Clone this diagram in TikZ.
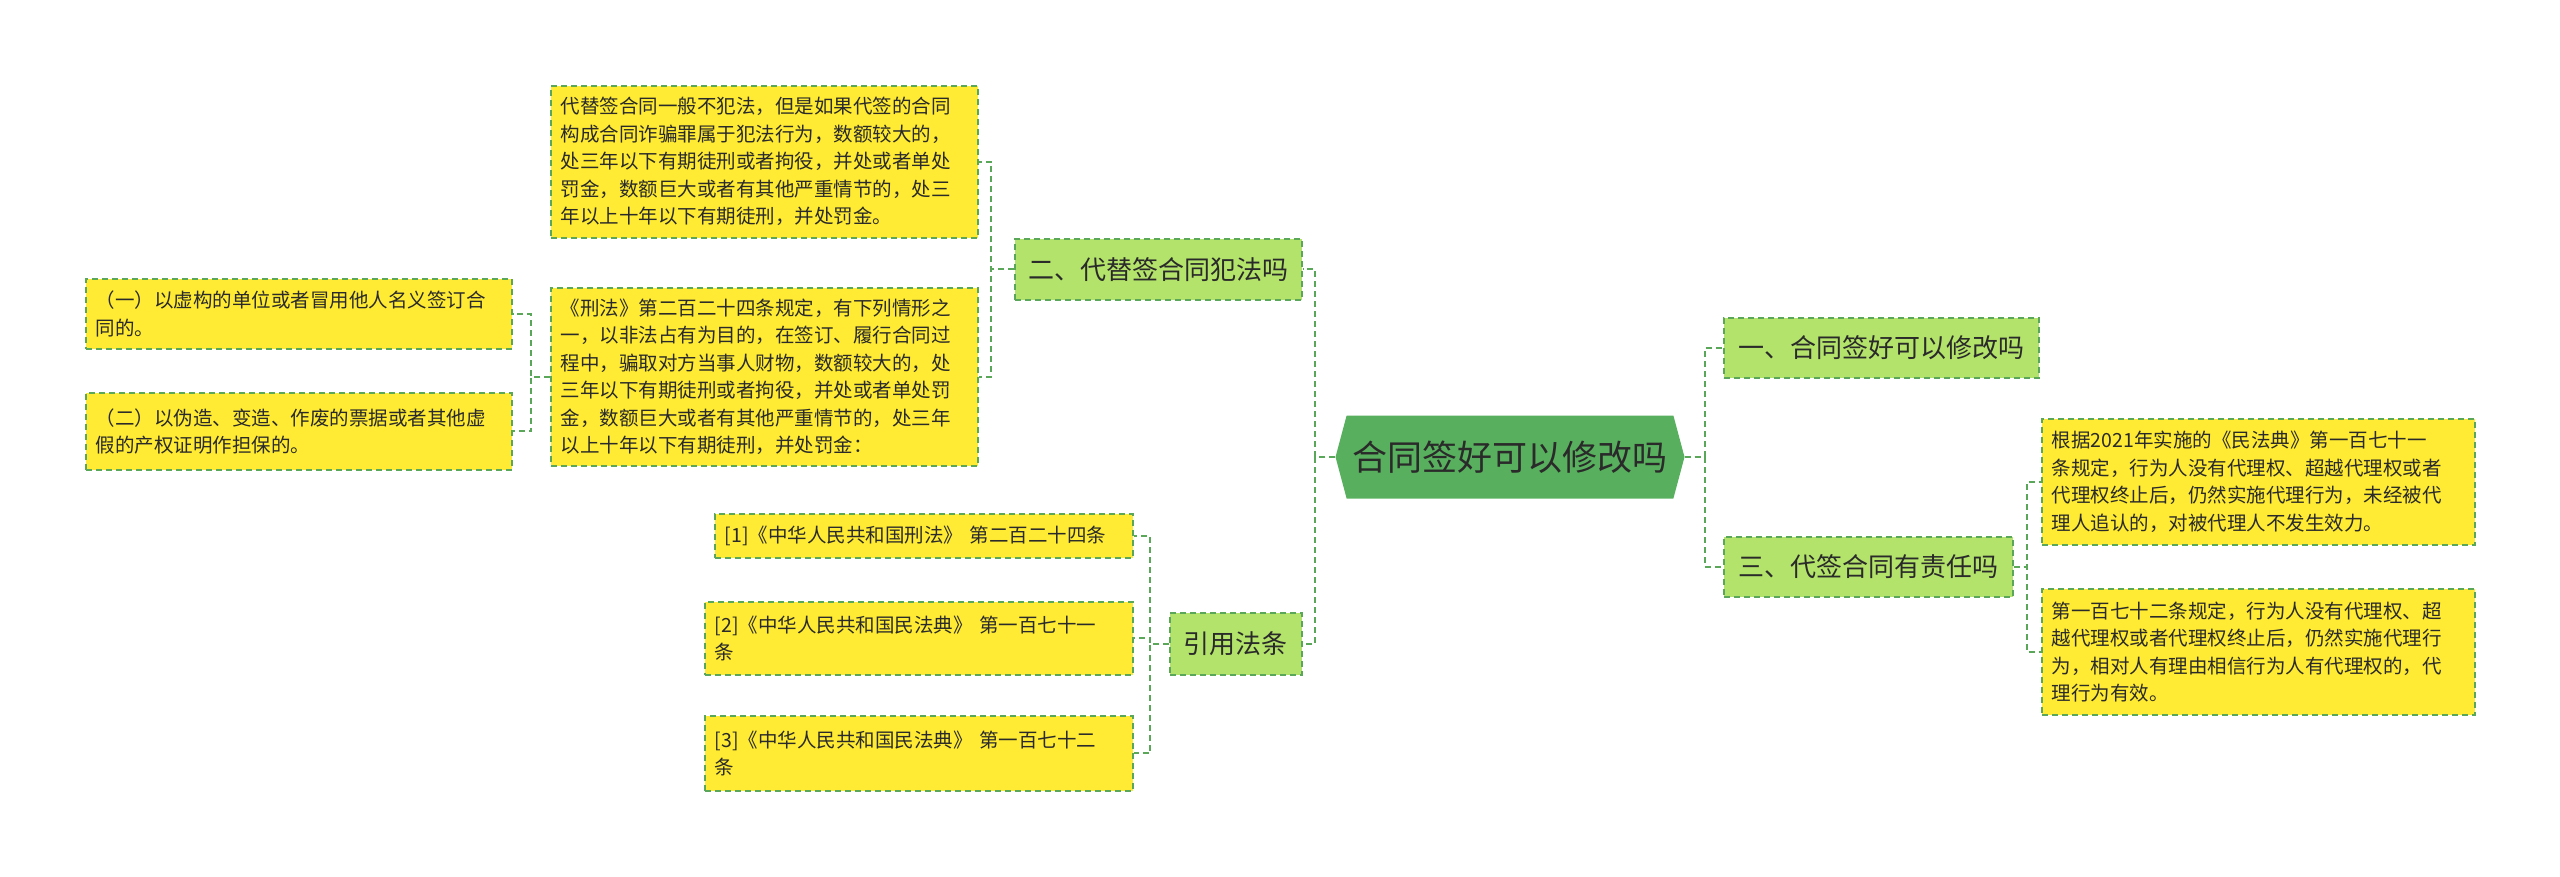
\documentclass[tikz,border=0pt]{standalone}
\usepackage{fontspec}
\newfontfamily\cjk{Noto Sans CJK SC}
\usetikzlibrary{shapes.symbols}
\definecolor{yel}{HTML}{FFEB33}
\definecolor{lgreen}{HTML}{B3E36A}
\definecolor{dgreen}{HTML}{58B05E}
\definecolor{edge}{HTML}{5AA75A}
\definecolor{txt}{HTML}{2A2A2A}
\tikzset{
  leaf/.style={draw=edge, fill=yel, line width=1.6pt, dash pattern=on 6pt off 4pt,
    anchor=north west, inner xsep=10pt, inner ysep=4pt, align=left, text=txt,
    font=\cjk\fontsize{19.5}{27.5}\selectfont},
  topic/.style={draw=edge, fill=lgreen, line width=1.6pt, dash pattern=on 6pt off 4pt,
    anchor=north west, inner xsep=8pt, align=center, text=txt,
    font=\cjk\fontsize{26}{32}\selectfont},
  conn/.style={draw=edge, line width=2pt, dash pattern=on 6pt off 4pt},
}
\begin{document}
\begin{tikzpicture}[x=1pt,y=-1pt]
\useasboundingbox (0,0) rectangle (2560,877);
% center
\node[signal, signal to=west and east, signal pointer angle=150, fill=dgreen,
  minimum width=349pt, minimum height=83pt, text=txt,
  font=\cjk\fontsize{35}{40}\selectfont] (c) at (1510,457) {合同签好可以修改吗};
% level 1
\node[topic, minimum width=287pt, minimum height=61pt] (n2) at (1014,238) {二、代替签合同犯法吗};
\node[topic, minimum width=132pt, minimum height=62pt] (nref) at (1169,612) {引用法条};
\node[topic, minimum width=315pt, minimum height=60pt] (n1) at (1723,317) {一、合同签好可以修改吗};
\node[topic, minimum width=289pt, minimum height=60pt] (n3) at (1723,536) {三、代签合同有责任吗};
% leaves
\node[leaf, text width=407pt, minimum height=152pt] (t1) at (550,85)
 {代替签合同一般不犯法，但是如果代签的合同\\构成合同诈骗罪属于犯法行为，数额较大的，\\处三年以下有期徒刑或者拘役，并处或者单处\\罚金，数额巨大或者有其他严重情节的，处三\\年以上十年以下有期徒刑，并处罚金。};
\node[leaf, text width=407pt, minimum height=178pt] (t2) at (550,287)
 {《刑法》第二百二十四条规定，有下列情形之\\一，以非法占有为目的，在签订、履行合同过\\程中，骗取对方当事人财物，数额较大的，处\\三年以下有期徒刑或者拘役，并处或者单处罚\\金，数额巨大或者有其他严重情节的，处三年\\以上十年以下有期徒刑，并处罚金：};
\node[leaf, text width=406pt, minimum height=70pt] (l1) at (85,278)
 {（一）以虚构的单位或者冒用他人名义签订合\\同的。};
\node[leaf, text width=406pt, minimum height=77pt] (l2) at (85,392)
 {（二）以伪造、变造、作废的票据或者其他虚\\假的产权证明作担保的。};
\node[leaf, text width=398pt, minimum height=44pt] (f1) at (714,513)
 {[1]《中华人民共和国刑法》 第二百二十四条};
\node[leaf, text width=408pt, minimum height=73pt] (f2) at (704,601)
 {[2]《中华人民共和国民法典》 第一百七十一\\条};
\node[leaf, text width=408pt, minimum height=75pt] (f3) at (704,715)
 {[3]《中华人民共和国民法典》 第一百七十二\\条};
\node[leaf, text width=413pt, minimum height=126pt] (r1) at (2041,418)
 {根据2021年实施的《民法典》第一百七十一\\条规定，行为人没有代理权、超越代理权或者\\代理权终止后，仍然实施代理行为，未经被代\\理人追认的，对被代理人不发生效力。};
\node[leaf, text width=413pt, minimum height=126pt] (r2) at (2041,588)
 {第一百七十二条规定，行为人没有代理权、超\\越代理权或者代理权终止后，仍然实施代理行\\为，相对人有理由相信行为人有代理权的，代\\理行为有效。};
% connectors
\draw[conn] (c.east) -- ++(20,0) |- (n1.west);
\draw[conn] (c.east) -- ++(20,0) |- (n3.west);
\draw[conn] (c.west) -- ++(-20,0) |- (n2.east);
\draw[conn] (c.west) -- ++(-20,0) |- (nref.east);
\draw[conn] (n2.west) -- ++(-23,0) |- (t1.east);
\draw[conn] (n2.west) -- ++(-23,0) |- (t2.east);
\draw[conn] (t2.west) -- ++(-19,0) |- (l1.east);
\draw[conn] (t2.west) -- ++(-19,0) |- (l2.east);
\draw[conn] (nref.west) -- ++(-19,0) |- (f1.east);
\draw[conn] (nref.west) -- ++(-19,0) |- (f2.east);
\draw[conn] (nref.west) -- ++(-19,0) |- (f3.east);
\draw[conn] (n3.east) -- ++(13,0) |- (r1.west);
\draw[conn] (n3.east) -- ++(13,0) |- (r2.west);
\end{tikzpicture}
\end{document}
